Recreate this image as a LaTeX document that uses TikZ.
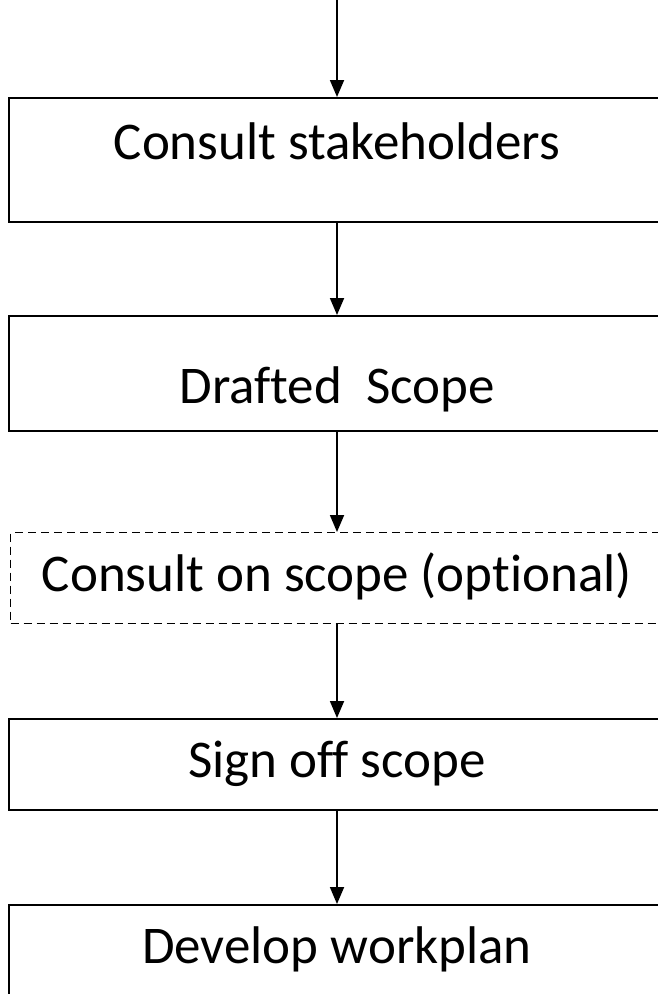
\documentclass[tikz,border=0pt]{standalone}
\usepackage{fontspec}
\setmainfont[Ligatures={NoCommon}]{Carlito}
\usetikzlibrary{arrows.meta}
\begin{document}
\begin{tikzpicture}[x=1bp,y=-1bp,
  stepbox/.style={draw=black,line width=1.6bp,rectangle,inner sep=0pt,anchor=north west},
  optbox/.style={stepbox,line width=1.3bp,dash pattern=on 8bp off 5bp},
  steptext/.style={anchor=base,inner sep=0pt,font=\fontsize{53bp}{64bp}\selectfont},
  flow/.style={line width=1.8bp,-{Triangle[length=17bp,width=14bp]}}]
\useasboundingbox (0,0) rectangle (658,994);
\clip (0,0) rectangle (658,994);
% process boxes, top to bottom
\node[stepbox,minimum width=658bp,minimum height=124bp] (b1) at (8,97) {};
\node[stepbox,minimum width=658bp,minimum height=115bp] (b2) at (8,315) {};
\node[optbox,minimum width=656bp,minimum height=91bp] (b3) at (10,532) {};
\node[stepbox,minimum width=658bp,minimum height=91bp] (b4) at (8,718) {};
\node[stepbox,minimum width=658bp,minimum height=120bp] (b5) at (8,904) {};
% labels
\node[steptext] (t1) at (337,159) {Consult stakeholders};
\node[steptext] (t2) at (337,403) {Drafted~ Scope};
\node[steptext] (t3) at (337,591) {Consult on scope (optional)};
\node[steptext] (t4) at (337,777) {Sign off scope};
\node[steptext] (t5) at (337,963) {Develop workplan};
% connectors
\coordinate (start) at (337,0);
\draw[flow] (start) -- (b1.north -| start);
\draw[flow] (b1.south -| start) -- (b2.north -| start);
\draw[flow] (b2.south -| start) -- (b3.north -| start);
\draw[flow] (b3.south -| start) -- (b4.north -| start);
\draw[flow] (b4.south -| start) -- (b5.north -| start);
\end{tikzpicture}
\end{document}
